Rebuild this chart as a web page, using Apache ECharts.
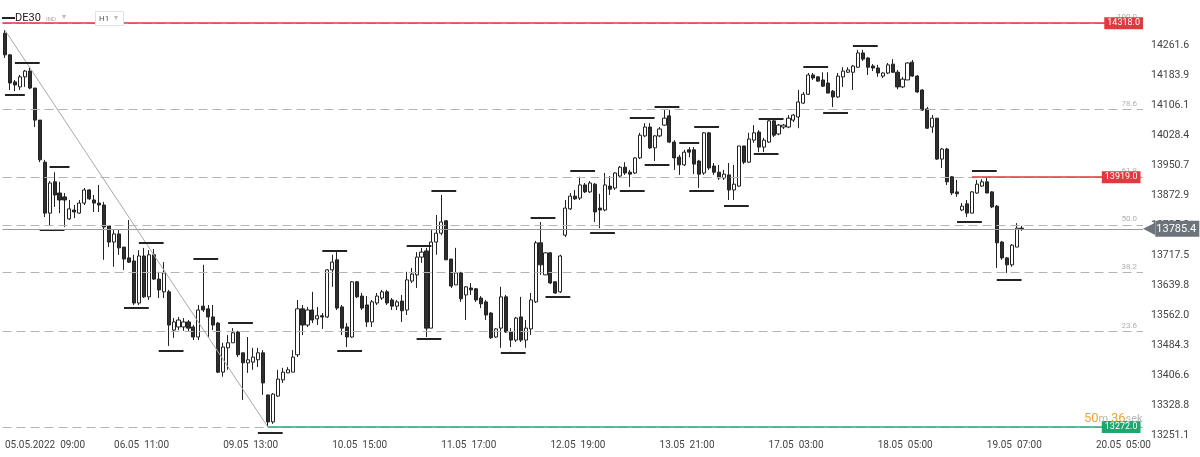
<!DOCTYPE html>
<html><head><meta charset="utf-8">
<script src="https://cdn.jsdelivr.net/npm/echarts@6/dist/echarts.min.js"></script>
<style>html,body{margin:0;padding:0;background:#fff}#c{width:1200px;height:457px}</style>
</head><body><div id="c"></div>
<script>
// ---------- data ----------
const symbolName = 'DE30';
const xTickLabels = ['05.05.2022  09:00','06.05  11:00','09.05  13:00','10.05  15:00','11.05  17:00','12.05  19:00','13.05  21:00','17.05  03:00','18.05  05:00','19.05  07:00','20.05  05:00'];
const barsPerLabel = 22;
const totalSlots = 230;
const yAxisMin = 13251.1;
const yAxisStep = 77.73;
const yAxisMax = 14339.3;

// [open, close, low, high]
const candles = [
[14292,14236,14228,14300],[14236,14163,14145,14238],[14166,14158,14142,14171],[14153,14179,14145,14184],[14179,14194,14153,14197],
[14194,14150,14147,14202],[14150,14067,14049,14150],[14067,13964,13958,14067],[13958,13826,13816,13964],[13826,13904,13795,13909],
[13907,13873,13842,13932],[13878,13860,13826,13907],[13868,13860,13790,13878],[13811,13837,13808,13860],[13834,13829,13813,13847],
[13826,13852,13824,13860],[13852,13886,13847,13891],[13886,13863,13860,13888],[13860,13852,13829,13873],[13852,13847,13829,13899],
[13847,13790,13705,13855],[13793,13751,13738,13793],[13751,13772,13687,13782],[13772,13736,13718,13782],[13738,13707,13679,13738],
[13710,13699,13697,13808],[13702,13593,13588,13718],[13593,13715,13588,13730],[13715,13609,13606,13736],[13609,13718,13601,13730],
[13718,13655,13653,13733],[13655,13627,13606,13674],[13622,13671,13606,13699],[13622,13536,13482,13627],[13523,13544,13503,13554],
[13531,13549,13523,13557],[13531,13544,13521,13554],[13544,13528,13518,13549],[13531,13505,13497,13536],[13505,13575,13497,13588],
[13585,13575,13570,13692],[13578,13557,13505,13588],[13557,13536,13523,13588],[13541,13414,13412,13544],[13414,13479,13402,13490],
[13477,13490,13420,13510],[13490,13516,13490,13528],[13518,13459,13453,13521],[13464,13438,13342,13464],[13438,13446,13412,13505],
[13440,13453,13420,13477],[13446,13464,13427,13477],[13464,13386,13355,13471],[13355,13285,13272,13355],[13285,13357,13280,13360],
[13352,13396,13350,13420],[13394,13414,13386,13425],[13412,13420,13412,13427],[13414,13453,13414,13471],[13459,13578,13453,13601],
[13578,13536,13510,13588],[13536,13575,13531,13583],[13575,13549,13541,13622],[13552,13560,13536,13583],[13560,13557,13526,13567],
[13557,13679,13554,13681],[13679,13699,13635,13718],[13705,13580,13575,13725],[13583,13528,13510,13588],[13531,13505,13479,13541],
[13505,13648,13503,13650],[13648,13609,13606,13650],[13611,13580,13575,13619],[13588,13544,13531,13611],[13544,13596,13531,13601],
[13593,13611,13588,13619],[13606,13622,13601,13627],[13622,13593,13588,13627],[13601,13585,13575,13606],[13585,13596,13575,13601],
[13598,13573,13544,13614],[13575,13653,13562,13674],[13650,13668,13645,13684],[13666,13712,13632,13725],[13712,13725,13697,13736],
[13728,13528,13505,13736],[13528,13751,13528,13782],[13751,13774,13718,13821],[13774,13803,13769,13873],[13806,13705,13705,13808],
[13707,13637,13632,13707],[13640,13671,13640,13736],[13671,13604,13596,13674],[13614,13635,13549,13637],[13632,13627,13614,13645],
[13630,13601,13596,13632],[13606,13591,13580,13611],[13596,13562,13549,13601],[13567,13503,13500,13570],[13505,13526,13503,13528],
[13528,13609,13477,13635],[13609,13518,13516,13614],[13518,13497,13479,13528],[13497,13554,13492,13557],[13557,13497,13492,13609],
[13497,13528,13477,13549],[13526,13601,13510,13619],[13596,13749,13593,13754],[13749,13692,13666,13803],[13666,13723,13666,13725],
[13723,13645,13642,13725],[13648,13619,13617,13650],[13622,13715,13619,13718],[13769,13839,13764,13860],[13837,13870,13834,13878],
[13870,13863,13860,13886],[13865,13899,13860,13920],[13899,13881,13878,13904],[13881,13904,13878,13909],[13901,13829,13803,13904],
[13839,13834,13787,13876],[13834,13899,13831,13930],[13896,13888,13873,13922],[13891,13930,13886,13932],[13922,13945,13920,13948],
[13945,13930,13925,13958],[13932,13927,13894,13938],[13930,13969,13927,13971],[13969,14028,13966,14034],[14026,14049,14023,14059],
[14049,13995,13992,14059],[13995,14026,13961,14028],[14026,14044,14023,14049],[14054,14072,14052,14093],[14078,14010,14008,14093],
[14010,13969,13938,14015],[13971,13951,13925,13977],[13951,13984,13948,13990],[13990,13984,13971,13997],[13990,13953,13927,13997],
[13961,13927,13891,13964],[13930,14034,13925,14036],[14034,13943,13938,14036],[13948,13932,13925,13956],[13932,13917,13912,13951],
[13917,13927,13912,13938],[13925,13886,13860,13956],[13886,13901,13860,13951],[13896,14000,13894,14000],[14000,13958,13953,14000],
[13958,14018,13956,14034],[14015,14034,14008,14054],[14036,13997,13984,14041],[13997,14015,13984,14021],[14010,14065,14008,14067],
[14065,14028,14023,14067],[14031,14054,14028,14057],[14049,14054,14044,14057],[14049,14072,14046,14080],[14067,14080,14062,14083],
[14075,14114,14046,14145],[14111,14134,14109,14140],[14134,14184,14132,14189],[14184,14176,14171,14189],[14179,14168,14166,14181],
[14171,14155,14153,14191],[14163,14137,14137,14191],[14142,14127,14101,14145],[14127,14181,14124,14189],[14179,14194,14153,14204],
[14191,14197,14189,14204],[14191,14207,14145,14210],[14204,14241,14202,14249],[14241,14225,14220,14249],[14228,14204,14184,14230],
[14207,14202,14194,14212],[14202,14189,14179,14210],[14181,14189,14176,14191],[14189,14210,14186,14215],[14212,14191,14189,14225],
[14191,14153,14147,14197],[14153,14173,14150,14179],[14171,14215,14171,14217],[14217,14181,14179,14223],[14181,14140,14137,14184],
[14145,14093,14091,14147],[14096,14046,14044,14101],[14049,14072,14034,14080],[14072,13966,13964,14072],[13966,13992,13943,13995],
[13992,13907,13899,13995],[13920,13878,13873,13922],[13881,13876,13868,13912],[13834,13844,13831,13852],[13850,13826,13816,13860],
[13826,13881,13826,13883],[13878,13901,13876,13912],[13896,13907,13894,13914],[13907,13878,13878,13917],[13881,13842,13839,13883],
[13844,13749,13684,13847],[13751,13710,13705,13754],[13710,13692,13671,13712],[13692,13743,13687,13746],[13738,13787,13738,13800],
[13787,13785.4,13780,13793]
];

// fibonacci retracement levels (value, label)
const fibValues = [14318.0, 14094.2, 13918.4, 13795.0, 13671.6, 13518.9, 13272.0];
const fibNames  = ['100.0', '78.6', '61.8', '50.0', '38.2', '23.6', ''];

// fractal marker lines: [startIndex, endIndex, price]
const fractalMarks = [
[0,4,14132],[2,7,14215],[7,12,13782],[9,13,13945],[24,29,13580],[27,32,13749],[31,36,13469],[38,43,13707],
[45,50,13541],[51,56,13257],[64,69,13728],[67,72,13469],[81,86,13741],[83,88,13500],[86,91,13883],[100,105,13464],
[106,111,13813],[109,114,13609],[114,119,13935],[118,123,13774],[124,129,13883],[126,131,14072],[129,134,13951],[131,136,14101],
[136,140,14008],[138,143,13883],[139,144,14049],[145,150,13844],[151,156,13979],[152,157,14070],[161,166,14204],[165,170,14085],
[171,176,14259],[192,197,13803],[195,200,13935],[200,205,13653]
];

const trendLine = [[0, 14300], [53, 13272]];
const topLevel = 14318.0;
const resistLevel = { from: 195, value: 13919.0 };
const supportLevel = { from: 53, value: 13272.0 };
const lastPrice = 13785.4;
const countdown = ['50', 'm', '36', 'sek'];

// ---------- chart ----------
const FONT = 'Roboto, "Noto Sans", sans-serif';
const RED = '#e0393e';
const cats = Array.from({length: totalSlots}, (_, i) => i % barsPerLabel === 0 ? (xTickLabels[i / barsPerLabel] || '') : '');
const lastIdx = totalSlots - 1;

const dashStyle = {color: '#b4b4b4', width: 1, type: [9, 5]};
const ml = [];
fibValues.forEach((v, k) => {
  ml.push({yAxis: v, lineStyle: dashStyle,
    label: {show: !!fibNames[k], formatter: fibNames[k] || ' ', position: 'insideEndTop', distance: [6, 2],
            color: '#b0b0b0', fontSize: 8, fontFamily: FONT}});
});
ml.push([{coord: trendLine[0], lineStyle: {color: '#a8a8a8', width: 1, type: 'solid'}}, {coord: trendLine[1]}]);
fractalMarks.forEach(m => {
  ml.push([{coord: [m[0], m[2]], lineStyle: {color: '#222', width: 2, type: 'solid'}}, {coord: [m[1], m[2]]}]);
});

const boxLabel = (bg) => ({show: true, position: 'insideEnd', distance: [0, 0],
  backgroundColor: bg, color: '#fff', fontSize: 9, fontFamily: FONT, padding: [2, 3, 1, 3]});
const ml2 = [];
ml2.push({yAxis: lastPrice, lineStyle: {color: '#9b9b9b', width: 1, type: 'solid'},
  label: {show: true, position: 'end', distance: 0,
    formatter: p => '{a|◀}{b|' + Number(p.value).toFixed(1) + '}',
    rich: {
      a: {color: '#6c737a', fontSize: 16, lineHeight: 16, fontFamily: 'DejaVu Sans'},
      b: {color: '#fff', backgroundColor: '#6c737a', fontSize: 11, fontFamily: FONT, padding: [3, 3, 2, 1], lineHeight: 11}
    }}});
ml2.push({yAxis: topLevel, lineStyle: {color: RED, width: 1.5, type: 'solid'},
  label: Object.assign(boxLabel(RED), {formatter: p => Number(p.value).toFixed(1)})});
ml2.push([{coord: [resistLevel.from, resistLevel.value], lineStyle: {color: RED, width: 1.5, type: 'solid'},
  label: Object.assign(boxLabel(RED), {formatter: resistLevel.value.toFixed(1)})},
  {coord: [lastIdx, resistLevel.value]}]);
ml2.push([{coord: [supportLevel.from, supportLevel.value], lineStyle: {color: '#2fa882', width: 1.5, type: 'solid'},
  label: Object.assign(boxLabel('#1fa66f'), {formatter: supportLevel.value.toFixed(1)})},
  {coord: [lastIdx, supportLevel.value]}]);

const option = {
  animation: false,
  backgroundColor: '#fff',
  grid: {left: 2.5, right: 57, top: 15, bottom: 22, containLabel: false},
  xAxis: {
    type: 'category', data: cats, boundaryGap: true,
    axisLine: {show: false}, axisTick: {show: false}, splitLine: {show: false},
    axisLabel: {interval: (i) => i % barsPerLabel === 0, align: 'left', color: '#444', fontSize: 10,
                fontFamily: FONT, margin: 5, showMinLabel: true, showMaxLabel: true}
  },
  yAxis: {
    type: 'value', position: 'right', min: yAxisMin, max: yAxisMax, interval: yAxisStep, scale: true,
    axisLine: {show: false}, axisTick: {show: false}, splitLine: {show: false},
    axisLabel: {formatter: v => v.toFixed(1), color: '#444', fontSize: 10.5, fontFamily: FONT, margin: 8,
                showMaxLabel: false, showMinLabel: true}
  },
  series: [{
    type: 'candlestick', data: candles, barWidth: 3.6, z: 2,
    itemStyle: {color: '#ffffff', color0: '#2e2e2e', borderColor: '#222', borderColor0: '#222', borderWidth: 1},
    markLine: {silent: true, symbol: ['none', 'none'], animation: false, label: {show: false},
               emphasis: {disabled: true}, data: ml}
  }, {
    type: 'line', data: [], z: 5, silent: true,
    markLine: {silent: true, symbol: ['none', 'none'], animation: false, label: {show: false},
               emphasis: {disabled: true}, data: ml2}
  }],
  graphic: [
    {type: 'line', shape: {x1: 2, y1: 18, x2: 15, y2: 18}, style: {stroke: '#222', lineWidth: 2}, z: 100},
    {type: 'text', x: 15, y: 18, style: {text: symbolName, fill: '#222', fontSize: 11, fontFamily: FONT, verticalAlign: 'middle'}, z: 100},
    {type: 'text', x: 46, y: 19, style: {text: 'IND', fill: '#aaa', fontSize: 6, fontFamily: FONT, verticalAlign: 'middle'}, z: 100},
    {type: 'text', x: 62, y: 17, style: {text: '▾', fill: '#bbb', fontSize: 8, fontFamily: 'DejaVu Sans', verticalAlign: 'middle'}, z: 100},
    {type: 'rect', shape: {x: 95.5, y: 11.5, width: 28, height: 14}, style: {fill: '#fff', stroke: '#e2e2e2', lineWidth: 1}, z: 100},
    {type: 'text', x: 99, y: 19, style: {text: 'H1', fill: '#555', fontSize: 8, fontFamily: FONT, verticalAlign: 'middle'}, z: 101},
    {type: 'text', x: 114, y: 18, style: {text: '▾', fill: '#bbb', fontSize: 8, fontFamily: 'DejaVu Sans', verticalAlign: 'middle'}, z: 101},
    {type: 'text', x: 1084, y: 419, z: 100, style: {
      text: '{a|' + countdown[0] + '}{b|' + countdown[1] + ' }{a|' + countdown[2] + '}{b|' + countdown[3] + '}',
      verticalAlign: 'middle',
      rich: {a: {fill: '#f0a53a', fontSize: 13, fontFamily: FONT}, b: {fill: '#b5b5b5', fontSize: 11, fontFamily: FONT}}}}
  ]
};
const chart = echarts.init(document.getElementById('c'));
chart.setOption(option);
</script>
</body></html>
